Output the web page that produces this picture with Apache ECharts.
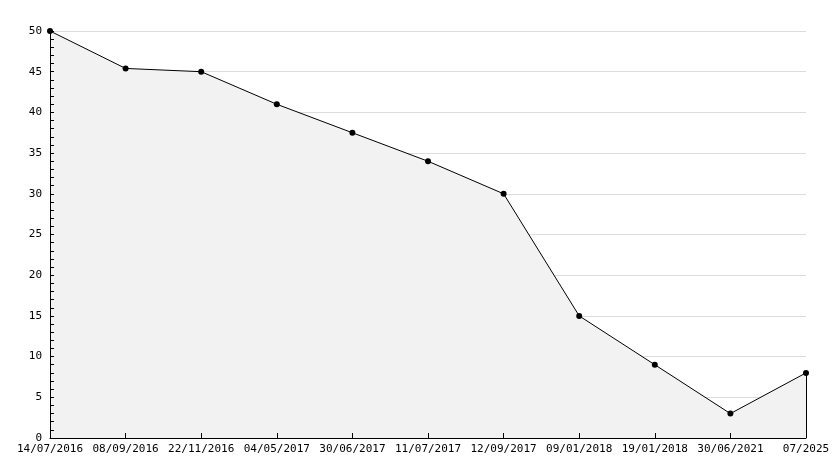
<!DOCTYPE html>
<html><head><meta charset="utf-8">
<script src="https://cdn.jsdelivr.net/npm/echarts@6/dist/echarts.min.js"></script>
<style>html,body{margin:0;padding:0;background:#fff}#c{width:834px;height:468px}</style>
</head><body><div id="c"></div>
<script>
const categories = ['14/07/2016','08/09/2016','22/11/2016','04/05/2017','30/06/2017','11/07/2017','12/09/2017','09/01/2018','19/01/2018','30/06/2021','07/2025'];
const values = [50, 45.4, 45, 41, 37.5, 34, 30, 15, 9, 3, 8];
const yTicks = {min: 0, max: 50, interval: 5};
const font = 'DejaVu Sans Mono';
const chart = echarts.init(document.getElementById('c'));
const last = categories[categories.length - 1];
const xBase = {
  type: 'category', data: categories, boundaryGap: false
};
const yBase = {
  type: 'value', min: yTicks.min, max: yTicks.max, interval: yTicks.interval
};
chart.setOption({
  animation: false,
  grid: {left: 50, right: 28, top: 31, bottom: 30},
  xAxis: [Object.assign({}, xBase, {
    axisLine: {show: false}, axisTick: {show: false},
    axisLabel: {color: '#000', fontFamily: font, fontSize: 11, margin: 6, interval: 0},
    splitLine: {show: false}
  }), Object.assign({}, xBase, {
    position: 'bottom', z: 10,
    axisLine: {show: true, lineStyle: {color: '#000', width: 1}},
    axisTick: {show: true, inside: true, length: 5, interval: 0, lineStyle: {color: '#000'}},
    axisLabel: {show: false}, splitLine: {show: false}
  })],
  yAxis: [Object.assign({}, yBase, {
    axisLine: {show: false}, axisTick: {show: false},
    axisLabel: {color: '#000', fontFamily: font, fontSize: 11, margin: 8},
    splitLine: {show: true, lineStyle: {color: '#dcdcdc', width: 1}}
  }), Object.assign({}, yBase, {
    position: 'left', z: 10,
    axisLine: {show: true, lineStyle: {color: '#000', width: 1}},
    axisTick: {show: true, inside: true, length: 4, lineStyle: {color: '#000'}},
    minorTick: {show: true, splitNumber: 5, length: 4, lineStyle: {color: '#000'}},
    axisLabel: {show: false}, splitLine: {show: false}
  })],
  series: [{
    type: 'line', data: values, xAxisIndex: 0, yAxisIndex: 0,
    symbol: 'circle', symbolSize: 6,
    itemStyle: {color: '#000'},
    lineStyle: {color: '#000', width: 1},
    areaStyle: {color: '#f2f2f2', opacity: 1},
    markLine: {
      silent: true, symbol: 'none', label: {show: false},
      lineStyle: {color: '#000', width: 1, type: 'solid'},
      data: [[{coord: [last, 0]}, {coord: [last, values[values.length - 1]]}]]
    }
  }]
});
</script></body></html>
